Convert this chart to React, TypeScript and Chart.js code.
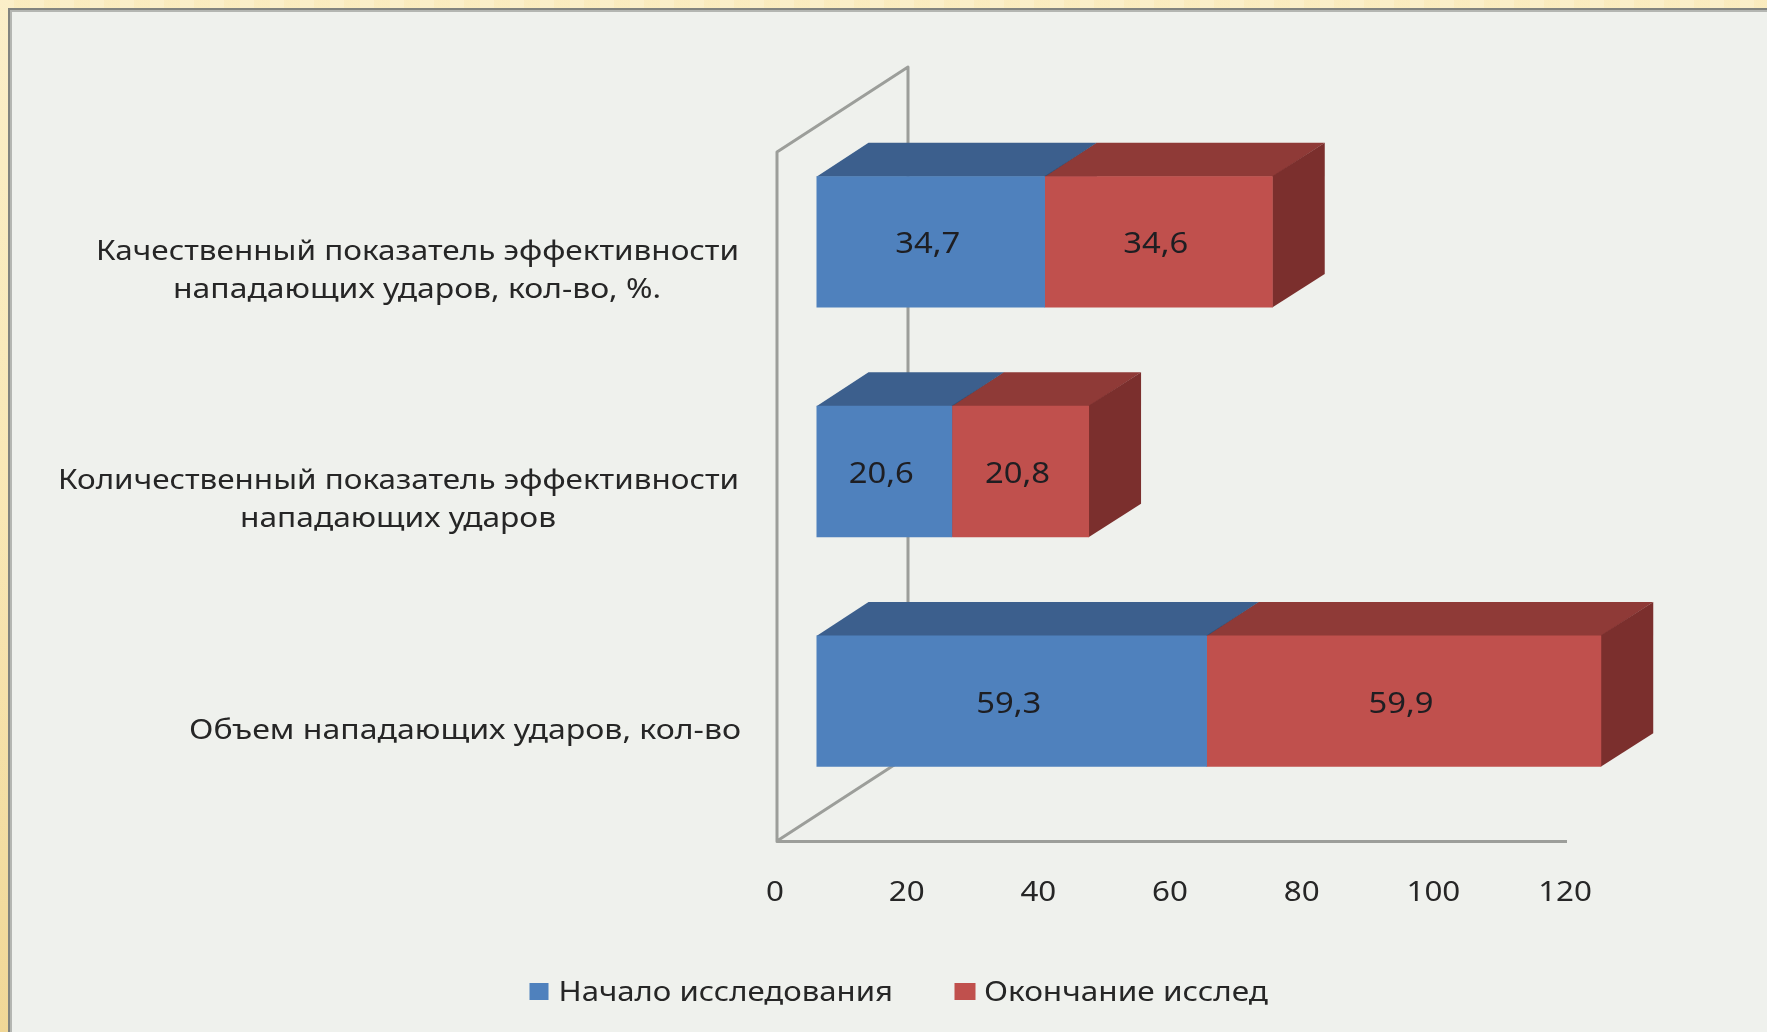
import React, { useEffect, useRef } from "react";
import { Chart, registerables } from "chart.js";

Chart.register(...registerables);

const categoryLines = [
  ["Качественный показатель эффективности", "нападающих ударов, кол-во, %."],
  ["Количественный показатель эффективности", "нападающих ударов"],
  ["Объем нападающих ударов, кол-во"],
];
const categories = categoryLines.map((l) => l.join(" "));
const startValues = [34.7, 20.6, 59.3];
const endValues = [34.6, 20.8, 59.9];
const seriesNames = ["Начало исследования", "Окончание исслед"];
const valueTicks = [0, 20, 40, 60, 80, 100, 120];

const FONT = '"Noto Sans"';
const TEXT = "#262626";
const WALL = "#9C9E9A";
const FRONT = ["#4F81BD", "#C0504D"];
const TOP = ["#3C5F8D", "#8F3A37"];
const SIDE = ["#2F4C70", "#7B2F2D"];

// 3D projection of the bars and of the wall, in pixels
const BAR_SHIFT = { x: 39.5, y: -25 };
const BAR_DEPTH = { x: 52, y: 33.5 };
const WALL_DEPTH = { x: 131, y: 85 };

// horizontal extent of each line of category text
const LINE_SPANS = [
  [[96, 739], [173, 661]],
  [[58, 739], [240, 556]],
  [[189, 741]],
];
const LINE_OFFSETS = [
  [18, 56],
  [17, 55],
  [37.5],
];

function spanText(ctx: CanvasRenderingContext2D, s: string, x0: number, x1: number, y: number, size: number) {
  ctx.save();
  ctx.font = `${size}px ${FONT}`;
  ctx.textAlign = "left";
  ctx.textBaseline = "alphabetic";
  const w = ctx.measureText(s).width;
  ctx.translate(x0, y);
  ctx.scale((x1 - x0) / w, 1);
  ctx.fillText(s, 0, 0);
  ctx.restore();
}

function centerText(ctx: CanvasRenderingContext2D, s: string, cx: number, y: number, size: number, stretch: number) {
  ctx.save();
  ctx.font = `${size}px ${FONT}`;
  ctx.textAlign = "center";
  ctx.textBaseline = "alphabetic";
  ctx.translate(cx, y);
  ctx.scale(stretch, 1);
  ctx.fillText(s, 0, 0);
  ctx.restore();
}

const box3d = {
  id: "box3d",
  beforeDatasetsDraw(chart: any) {
    const { ctx, chartArea: a } = chart;
    ctx.save();
    ctx.strokeStyle = WALL;
    ctx.lineWidth = 3;
    ctx.lineJoin = "round";
    ctx.beginPath();
    ctx.moveTo(a.right, a.bottom + 0.5);
    ctx.lineTo(a.left, a.bottom + 0.5);
    ctx.lineTo(a.left, a.top);
    ctx.lineTo(a.left + WALL_DEPTH.x, a.top - WALL_DEPTH.y);
    ctx.lineTo(a.left + WALL_DEPTH.x, a.bottom - WALL_DEPTH.y);
    ctx.lineTo(a.left, a.bottom);
    ctx.stroke();
    ctx.restore();

    ctx.save();
    ctx.translate(BAR_SHIFT.x, BAR_SHIFT.y);
    chart.data.datasets.forEach((_: any, d: number) => {
      chart.getDatasetMeta(d).data.forEach((el: any) => {
        const t = el.y - el.height / 2;
        const b = el.y + el.height / 2;
        ctx.fillStyle = TOP[d];
        ctx.beginPath();
        ctx.moveTo(el.base, t + 0.5);
        ctx.lineTo(el.base + BAR_DEPTH.x, t - BAR_DEPTH.y);
        ctx.lineTo(el.x + BAR_DEPTH.x, t - BAR_DEPTH.y);
        ctx.lineTo(el.x, t + 0.5);
        ctx.closePath();
        ctx.fill();
        ctx.fillStyle = SIDE[d];
        ctx.beginPath();
        ctx.moveTo(el.x - 0.5, t);
        ctx.lineTo(el.x + BAR_DEPTH.x, t - BAR_DEPTH.y);
        ctx.lineTo(el.x + BAR_DEPTH.x, b - BAR_DEPTH.y);
        ctx.lineTo(el.x - 0.5, b);
        ctx.closePath();
        ctx.fill();
      });
    });
  },
  afterDatasetsDraw(chart: any) {
    const { ctx } = chart;
    ctx.restore();
    ctx.save();
    ctx.fillStyle = "#1E1E22";
    chart.data.datasets.forEach((ds: any, d: number) => {
      chart.getDatasetMeta(d).data.forEach((el: any, i: number) => {
        const cx = (el.x + el.base) / 2 + BAR_SHIFT.x - 3;
        const label = String(ds.data[i]).replace(".", ",");
        centerText(ctx, label, cx, el.y + BAR_SHIFT.y + 11.5, 29, 1.13);
      });
    });
    ctx.restore();
  },
  afterDraw(chart: any) {
    const { ctx, scales } = chart;
    ctx.save();
    ctx.fillStyle = TEXT;
    scales.x.ticks.forEach((t: any, i: number) => {
      centerText(ctx, String(t.value), scales.x.getPixelForTick(i) - 2, 901, 27, 1.16);
    });
    categoryLines.forEach((lines, i) => {
      const cy = scales.y.getPixelForTick(i) + BAR_SHIFT.y;
      lines.forEach((line, j) => {
        const [x0, x1] = LINE_SPANS[i][j];
        spanText(ctx, line, x0, x1, cy + LINE_OFFSETS[i][j], 28);
      });
    });
    // legend
    ctx.fillStyle = FRONT[0];
    ctx.fillRect(529.5, 983, 19, 17);
    ctx.fillStyle = FRONT[1];
    ctx.fillRect(954.5, 983, 21, 17);
    ctx.fillStyle = TEXT;
    spanText(ctx, chart.data.datasets[0].label, 558.5, 893, 1001, 28);
    spanText(ctx, chart.data.datasets[1].label, 984, 1268, 1001, 28);
    ctx.restore();
  },
};

export default function App() {
  const ref = useRef<HTMLCanvasElement>(null);
  useEffect(() => {
    const chart = new Chart(ref.current!, {
      type: "bar",
      data: {
        labels: categories,
        datasets: [
          { label: seriesNames[0], data: startValues, backgroundColor: FRONT[0], clip: false as any },
          { label: seriesNames[1], data: endValues, backgroundColor: FRONT[1], clip: false as any },
        ],
      },
      options: {
        indexAxis: "y",
        animation: false,
        responsive: false,
        devicePixelRatio: 1,
        layout: { padding: { left: 777, right: 200, top: 152, bottom: 191 } },
        datasets: { bar: { categoryPercentage: 1, barPercentage: 0.572 } },
        plugins: { legend: { display: false }, tooltip: { enabled: false } },
        scales: {
          x: {
            display: false,
            stacked: true,
            min: 0,
            max: 120,
            afterBuildTicks: (s: any) => {
              s.ticks = valueTicks.map((value) => ({ value }));
            },
          },
          y: {
            display: false,
            stacked: true,
          },
        },
      } as any,
      plugins: [box3d],
    });
    return () => chart.destroy();
  }, []);
  return (
    <div
      style={{
        position: "absolute",
        left: 0,
        top: 0,
        width: 1767,
        height: 1032,
        overflow: "hidden",
        background:
          "repeating-linear-gradient(90deg, rgba(255,255,255,0.08) 0 14px, rgba(240,205,120,0.07) 14px 30px), linear-gradient(180deg, #FBEEC4 0%, #F8E5AE 50%, #EFD48E 100%)",
      }}
    >
      <div
        style={{
          position: "absolute",
          left: 8,
          top: 8,
          right: 0,
          bottom: 0,
          background: "#EFF1ED",
          boxShadow: "inset 2px 2px 0 #82847F, inset 4px 4px 0 #B4B6B2",
        }}
      />
      <canvas ref={ref} width={1767} height={1032} style={{ position: "absolute", left: 0, top: 0, display: "block" }} />
    </div>
  );
}
